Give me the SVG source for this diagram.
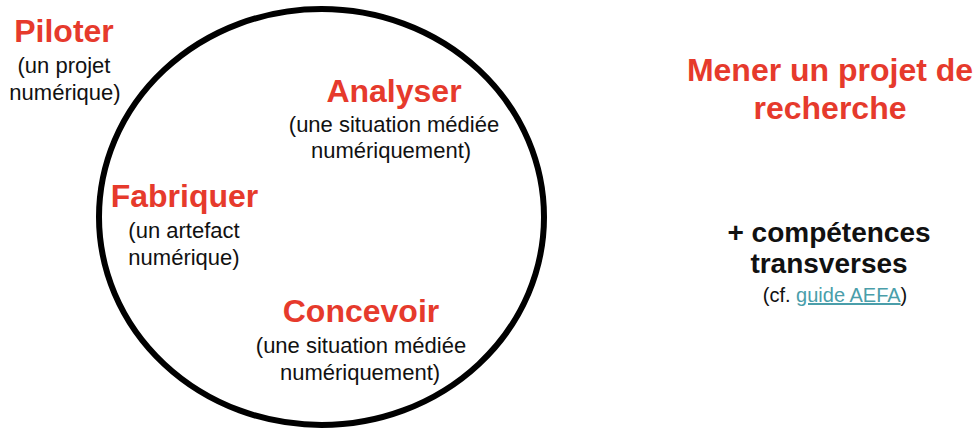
<svg xmlns="http://www.w3.org/2000/svg" width="977" height="431" viewBox="0 0 977 431">
<style>
.t{font-family:"Liberation Sans",Arial,sans-serif;font-weight:bold;font-size:32px;fill:#e63a2c;text-anchor:middle}
.s{font-family:"Liberation Sans",Arial,sans-serif;font-size:22px;fill:#111;text-anchor:middle}
.b{font-family:"Liberation Sans",Arial,sans-serif;font-weight:bold;font-size:28px;fill:#111;text-anchor:middle}
.c{font-family:"Liberation Sans",Arial,sans-serif;font-size:20px;fill:#111;text-anchor:middle}
.lk{fill:#4a9eaa;text-decoration:underline}
</style>
<rect width="977" height="431" fill="#fff"/>
<g id="circle">
<ellipse cx="321.5" cy="217" rx="222.5" ry="208" fill="none" stroke="#000" stroke-width="6"/>
</g>
<g id="connectors"></g>
<g id="piloter">
<text class="t" x="64" y="42">Piloter</text>
<text class="s" x="64" y="73">(un projet</text>
<text class="s" x="65" y="100">numérique)</text>
</g>
<g id="analyser">
<text class="t" x="394" y="102">Analyser</text>
<text class="s" x="394" y="132">(une situation médiée</text>
<text class="s" x="391" y="158">numériquement)</text>
</g>
<g id="fabriquer">
<text class="t" x="184.5" y="207">Fabriquer</text>
<text class="s" x="184" y="238">(un artefact</text>
<text class="s" x="184" y="265">numérique)</text>
</g>
<g id="concevoir">
<text class="t" x="361" y="322">Concevoir</text>
<text class="s" x="361" y="353">(une situation médiée</text>
<text class="s" x="360" y="380">numériquement)</text>
</g>
<g id="recherche">
<text class="t" x="830" y="81">Mener un projet de</text>
<text class="t" x="830" y="119">recherche</text>
</g>
<g id="transverses">
<text class="b" x="829" y="242">+ compétences</text>
<text class="b" x="829" y="273">transverses</text>
<text class="c" x="835" y="302">(cf. <tspan class="lk">guide AEFA</tspan>)</text>
</g>
</svg>
